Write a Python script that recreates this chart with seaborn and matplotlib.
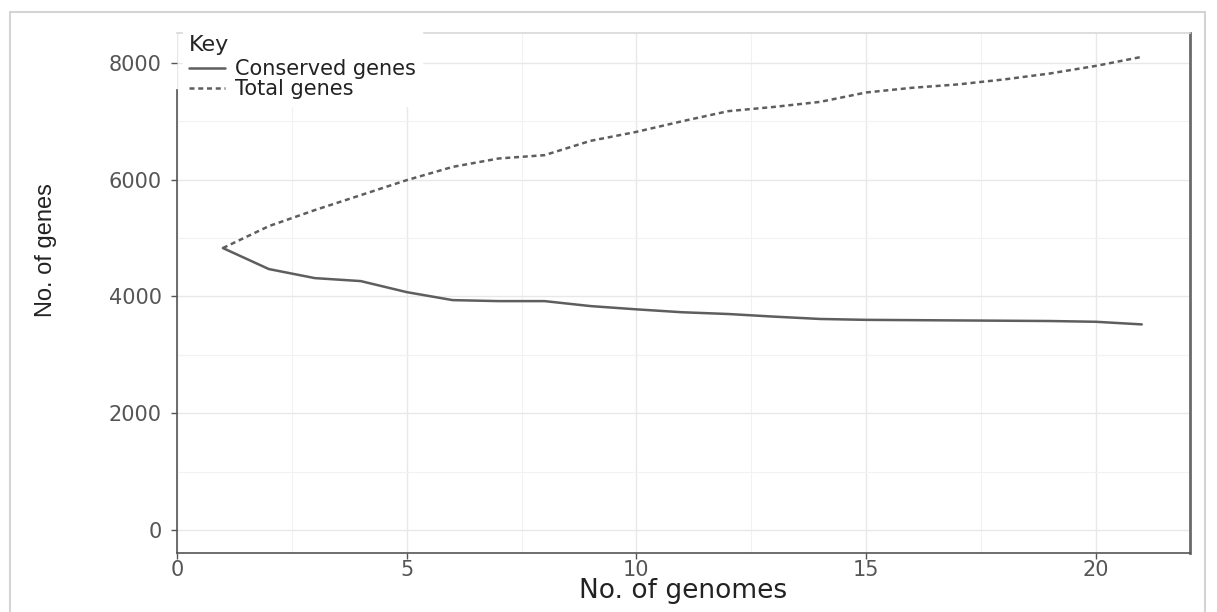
import pandas as pd
import seaborn as sns
import matplotlib.pyplot as plt
from matplotlib.patches import Rectangle

# values
genomes = list(range(1, 22))
conserved = [4830, 4470, 4315, 4264, 4075, 3938, 3921, 3921, 3836, 3780, 3730,
             3700, 3655, 3615, 3600, 3595, 3590, 3585, 3580, 3567, 3522]
total = [4830, 5205, 5480, 5736, 5993, 6220, 6364, 6421, 6666, 6820, 7003,
         7175, 7248, 7334, 7495, 7575, 7633, 7718, 7820, 7950, 8105]
series_names = ["Conserved genes", "Total genes"]
x_ticks = [0, 5, 10, 15, 20]
y_ticks = [0, 2000, 4000, 6000, 8000]


def main():
    df = pd.DataFrame({
        "genomes": genomes * 2,
        "genes": conserved + total,
        "Key": [series_names[0]] * len(genomes) + [series_names[1]] * len(genomes),
    })

    sns.set_theme(style="white")
    plt.rcParams["font.family"] = ["DejaVu Sans"]

    fig = plt.figure(figsize=(12.17, 6.12), dpi=100)
    ax = fig.add_axes([0.1454, 0.0964, 0.8324, 0.8497])

    # light frame round the whole picture
    fig.patches.append(Rectangle((10 / 1217, -0.05), 1205 / 1217 - 10 / 1217, 1.05 - 12 / 612,
                                 transform=fig.transFigure, fill=False,
                                 edgecolor="#d4d4d4", linewidth=1.5))

    sns.lineplot(data=df, x="genomes", y="genes", style="Key",
                 dashes={series_names[0]: "", series_names[1]: (2, 1.5)},
                 color="#5e5e5e", linewidth=1.8, ax=ax)

    ax.set_xlim(0, 22.05)
    ax.set_ylim(-394, 8514)
    ax.set_xticks(x_ticks)
    ax.set_yticks(y_ticks)
    ax.set_xticks([2.5, 7.5, 12.5, 17.5], minor=True)
    ax.set_yticks([1000, 3000, 5000, 7000], minor=True)
    ax.grid(which="major", color="#e8e8e8", linewidth=1.0)
    ax.grid(which="minor", color="#f2f2f2", linewidth=0.8)
    ax.set_axisbelow(True)

    ax.tick_params(axis="both", which="major", labelsize=15, labelcolor="#555555",
                   color="#555555", length=4, width=1, direction="out",
                   left=True, bottom=True)
    ax.tick_params(axis="x", pad=1)
    ax.tick_params(axis="y", pad=7)
    ax.tick_params(which="minor", length=0)

    for side in ["left", "bottom"]:
        ax.spines[side].set_color("#555555")
        ax.spines[side].set_linewidth(1.2)
    # the key hides the top of the y axis line
    ax.spines["left"].set_bounds(-394, 7537)
    ax.spines["top"].set_color("#d8d8d8")
    ax.spines["top"].set_linewidth(1.2)
    ax.spines["right"].set_color("#6a6a6a")
    ax.spines["right"].set_linewidth(2)

    ax.set_xlabel("No. of genomes", fontsize=19, color="#222222")
    ax.xaxis.set_label_coords(0.5, -0.048)
    ax.set_ylabel("No. of genes", fontsize=17, color="#222222",
                  family=["Liberation Sans Narrow", "Liberation Sans"])
    ax.yaxis.set_label_coords(-0.118, 0.583)

    leg = ax.legend(title="Key", loc="upper left", bbox_to_anchor=(0.006, 1.0077),
                    frameon=True, fontsize=15, title_fontsize=16, handlelength=1.7,
                    borderpad=0.3, labelspacing=0.0, handletextpad=0.5,
                    borderaxespad=0.0, fancybox=False)
    leg.get_frame().set_facecolor("white")
    leg.get_frame().set_edgecolor("white")
    leg.get_frame().set_alpha(1)
    leg.set_zorder(10)
    leg._legend_box.align = "left"
    leg._legend_box.sep = 3
    for t in leg.get_texts():
        t.set_color("#222222")

    fig.savefig("out.png", dpi=100)


if __name__ == "__main__":
    main()
